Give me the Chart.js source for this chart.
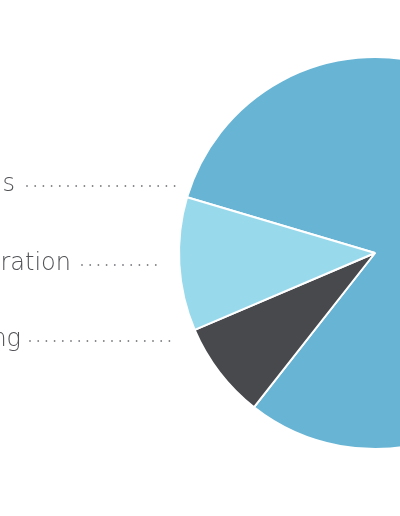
<!DOCTYPE html>
<html lang="en">
<head>
    <meta charset="UTF-8">
    <title>Spending</title>
    <script src="https://cdn.jsdelivr.net/npm/chart.js"></script>
    <style>
        html, body { margin: 0; padding: 0; background: #fff; overflow: hidden; }
        .chart { position: absolute; left: 0; top: 0; width: 750px; height: 516px; }
    </style>
</head>
<body>
    <div class="chart">
        <canvas id="pieChart"></canvas>
    </div>

    <script>
        // data, clockwise from the upper-left edge
        const categories = ['Programs', 'Fundraising', 'Administration'];
        const shares = [81, 8, 11];
        const colours = ['#67b4d4', '#48494d', '#99d9ec'];

        // left-hand callouts: label text right edge, leader start/end, vertical offset from pie centre
        const callouts = [
            { idx: 0, textX: 15, dotFrom: 27, dotTo: 175, dy: -68 },
            { idx: 2, textX: 71, dotFrom: 82, dotTo: 157, dy: 11 },
            { idx: 1, textX: 21, dotFrom: 30, dotTo: 175, dy: 87 }
        ];

        const calloutPlugin = {
            id: 'callouts',
            afterDraw(chart) {
                const ctx = chart.ctx;
                const arc = chart.getDatasetMeta(0).data[0];
                ctx.save();
                ctx.font = '200 24px "DejaVu Sans"';
                ctx.textAlign = 'right';
                ctx.textBaseline = 'middle';
                callouts.forEach(c => {
                    const y = arc.y + c.dy;
                    ctx.fillStyle = '#505155';
                    ctx.fillText(categories[c.idx], c.textX, y);
                    ctx.fillStyle = '#7e7f83';
                    for (let x = c.dotFrom; x <= c.dotTo; x += 8.2) {
                        ctx.beginPath();
                        ctx.arc(x, y + 1, 0.9, 0, Math.PI * 2);
                        ctx.fill();
                    }
                });
                ctx.restore();
            }
        };

        const ctx = document.getElementById('pieChart').getContext('2d');
        const pieChart = new Chart(ctx, {
            type: 'pie',
            data: {
                labels: categories,
                datasets: [{
                    data: shares,
                    backgroundColor: colours,
                    borderColor: '#ffffff',
                    borderWidth: 2
                }]
            },
            options: {
                responsive: true,
                maintainAspectRatio: false,
                animation: false,
                rotation: 286.5,
                layout: { padding: { top: 56, bottom: 66 } },
                plugins: {
                    legend: { display: false },
                    tooltip: { enabled: false }
                }
            },
            plugins: [calloutPlugin]
        });
    </script>
</body>
</html>
